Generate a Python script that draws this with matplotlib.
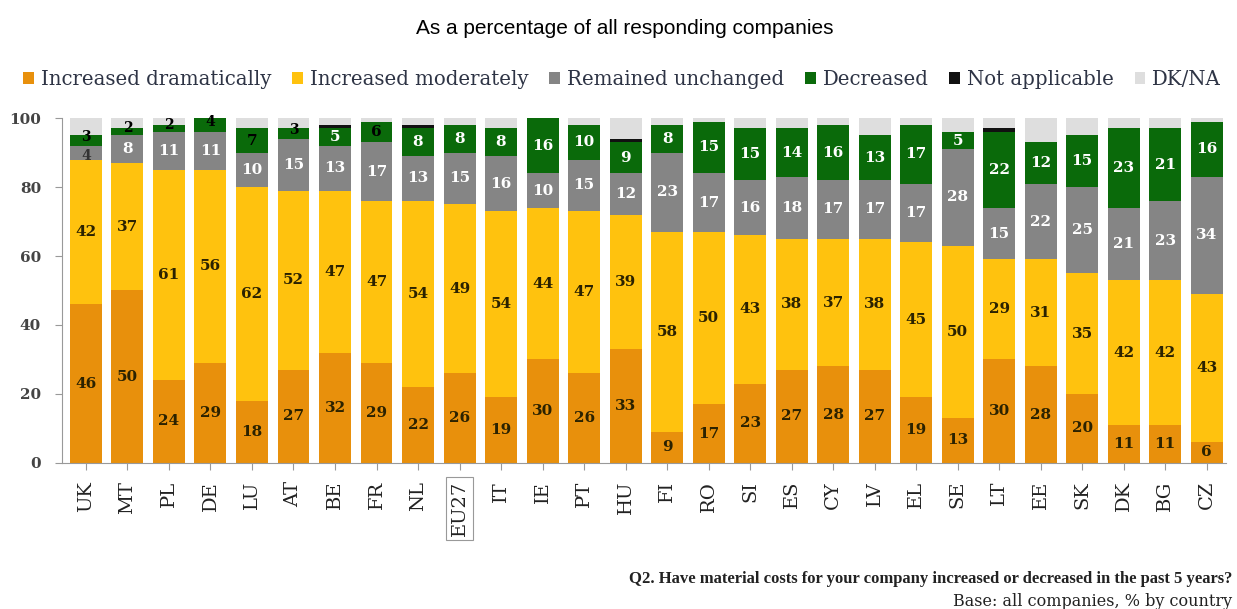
import numpy as np
import matplotlib.pyplot as plt

countries = ["UK", "MT", "PL", "DE", "LU", "AT", "BE", "FR", "NL", "EU27",
             "IT", "IE", "PT", "HU", "FI", "RO", "SI", "ES", "CY", "LV",
             "EL", "SE", "LT", "EE", "SK", "DK", "BG", "CZ"]

inc_dramatic = [46, 50, 24, 29, 18, 27, 32, 29, 22, 26, 19, 30, 26, 33, 9,
                17, 23, 27, 28, 27, 19, 13, 30, 28, 20, 11, 11, 6]
inc_moderate = [42, 37, 61, 56, 62, 52, 47, 47, 54, 49, 54, 44, 47, 39, 58,
                50, 43, 38, 37, 38, 45, 50, 29, 31, 35, 42, 42, 43]
unchanged = [4, 8, 11, 11, 10, 15, 13, 17, 13, 15, 16, 10, 15, 12, 23,
             17, 16, 18, 17, 17, 17, 28, 15, 22, 25, 21, 23, 34]
decreased = [3, 2, 2, 4, 7, 3, 5, 6, 8, 8, 8, 16, 10, 9, 8,
             15, 15, 14, 16, 13, 17, 5, 22, 12, 15, 23, 21, 16]
not_applicable = [0, 0, 0, 0, 0, 0, 1, 0, 1, 0, 0, 0, 0, 1, 0,
                  0, 0, 0, 0, 0, 0, 0, 1, 0, 0, 0, 0, 0]
dk_na = [5, 3, 2, 0, 3, 3, 2, 1, 2, 2, 3, 0, 2, 6, 2,
         1, 3, 3, 2, 5, 2, 4, 3, 7, 5, 3, 3, 1]

series = [
    ("Increased dramatically", inc_dramatic, "#E8900C"),
    ("Increased moderately", inc_moderate, "#FFC20E"),
    ("Remained unchanged", unchanged, "#858585"),
    ("Decreased", decreased, "#0A6A0A"),
    ("Not applicable", not_applicable, "#111111"),
    ("DK/NA", dk_na, "#DEDEDE"),
]

# small green values near the left are printed in black
dark_green_labels = {"UK", "MT", "PL", "DE", "LU", "AT", "FR"}

serif = ["DejaVu Serif"]
text_dark = "#2E3445"

fig = plt.figure(figsize=(12.37, 6.09), dpi=100)
ax = fig.add_axes([0.050, 0.240, 0.941, 0.566])

x = np.arange(len(countries))
bottom = np.zeros(len(countries))
for k, (name, vals, color) in enumerate(series):
    vals = np.array(vals, dtype=float)
    ax.bar(x, vals, bottom=bottom, width=0.77, color=color, label=name,
           edgecolor="none")
    if k < 4:
        for i, v in enumerate(vals):
            if v <= 0:
                continue
            if k < 2:
                tc = "#2B2200"
            elif k == 2:
                tc = "#333333" if v < 5 else "white"
            else:
                tc = "black" if countries[i] in dark_green_labels else "white"
            y = bottom[i] + v / 2
            size = 11
            if v < 5:
                size = 10
                # tiny stacked segments: push the labels apart a little
                y += 1.0 if k == 3 else -1.0
            ax.text(x[i], y, f"{int(v)}", ha="center", va="center",
                    color=tc, fontsize=size, fontweight="bold", family=serif)
    bottom += vals

ax.set_xlim(-0.58, len(countries) - 0.54)
ax.set_ylim(0, 100)
ax.set_yticks([0, 20, 40, 60, 80, 100])
ax.set_xticks(x)
ax.set_xticklabels(countries, rotation=90, family=serif, fontsize=14,
                   color="#222222")
for lbl in ax.get_xticklabels():
    if lbl.get_text() == "EU27":
        lbl.set_bbox(dict(facecolor="white", edgecolor="#999999", pad=3,
                          linewidth=0.8))
for lbl in ax.get_yticklabels():
    lbl.set_family(serif)
    lbl.set_fontweight("bold")
    lbl.set_fontsize(11)

for side in ["top", "right"]:
    ax.spines[side].set_visible(False)
for side in ["left", "bottom"]:
    ax.spines[side].set_color("#999999")
ax.tick_params(axis="both", colors="#999999", length=5, width=0.8)
ax.tick_params(axis="x", labelcolor="#222222", pad=8)
ax.tick_params(axis="y", labelcolor="#444444", pad=10)

fig.text(0.505, 0.953, "As a percentage of all responding companies",
         ha="center", va="center", fontsize=15, family="Liberation Sans")

handles, labels = ax.get_legend_handles_labels()
leg = fig.legend(handles, labels, loc="center", bbox_to_anchor=(0.503, 0.870),
                 ncol=6, frameon=False, handlelength=0.55, handleheight=0.55,
                 handletextpad=0.35, columnspacing=1.05,
                 prop={"family": serif, "size": 14.2})
for t in leg.get_texts():
    t.set_color(text_dark)

fig.text(0.996, 0.049,
         "Q2. Have material costs for your company increased or decreased in the past 5 years?",
         ha="right", va="center", fontsize=12, fontweight="bold",
         family=["Liberation Serif"], color="#222222")
fig.text(0.996, 0.012, "Base: all companies, % by country", ha="right",
         va="center", fontsize=11.5, family=serif, color="#222222")

fig.savefig("out.png", dpi=100)
